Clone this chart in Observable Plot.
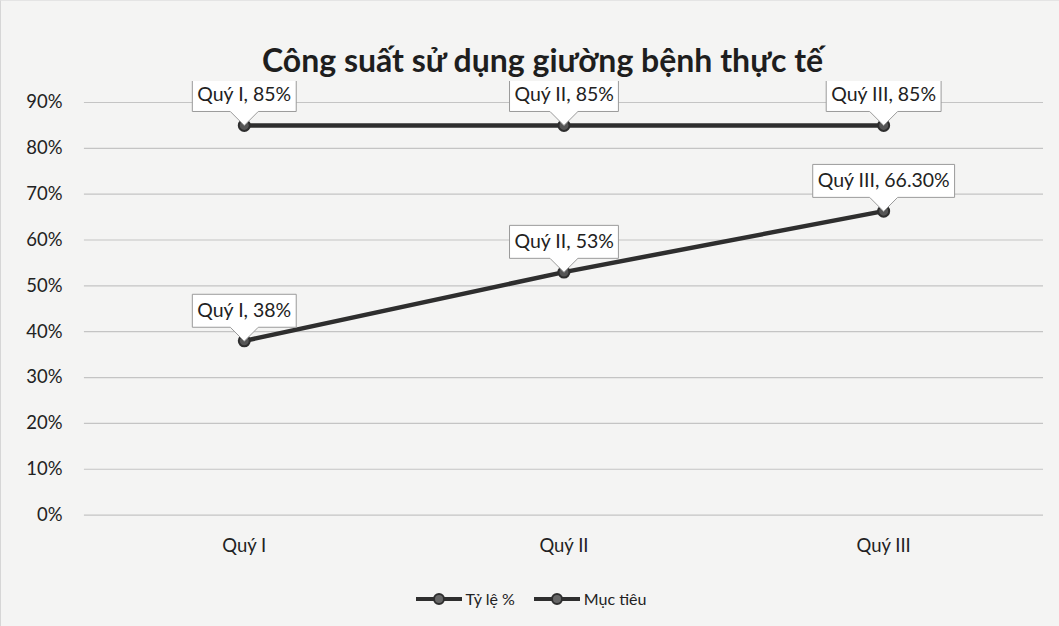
<!DOCTYPE html>
<html>
<head>
<meta charset="utf-8">
<script src="https://cdn.jsdelivr.net/npm/d3@7"></script>
<script src="https://cdn.jsdelivr.net/npm/@observablehq/plot@0.6"></script>
<style>
  html, body { margin: 0; padding: 0; background: #f4f4f3; }
  #chart { width: 1059px; height: 626px; position: relative; font-family: Lato, "Open Sans", sans-serif; color: #222; box-sizing: border-box; border-left: 1px solid #d6d6d6; border-top: 1px solid #e4e4e4; }
  #title { position: absolute; top: 39px; left: 12px; width: 1059px; text-align: center; font-size: 32px; line-height: 40px; font-weight: bold; color: #1e1e1e; }
  #plot { position: absolute; top: 80px; left: 0; }
  #legend { position: absolute; top: 588px; left: 0; width: 1059px; display: flex; justify-content: center; gap: 18px; font-size: 16px; color: #222; }
  .item { display: flex; align-items: center; gap: 3px; }
</style>
</head>
<body>
<div id="chart">
  <div id="title">Công suất sử dụng giường bệnh thực tế</div>
  <div id="plot"></div>
  <div id="legend"></div>
</div>
<script>
const quarters = ["Quý I", "Quý II", "Quý III"];
const tyLe = [0.38, 0.53, 0.663];
const tyLeText = ["38%", "53%", "66.30%"];
const mucTieu = [0.85, 0.85, 0.85];
const mucTieuText = ["85%", "85%", "85%"];
const yTicks = [0, 0.1, 0.2, 0.3, 0.4, 0.5, 0.6, 0.7, 0.8, 0.9];
const seriesNames = ["Tỷ lệ %", "Mục tiêu"];

const rows = [];
quarters.forEach((q, i) => {
  rows.push({series: seriesNames[0], q, v: tyLe[i], label: q + ", " + tyLeText[i]});
  rows.push({series: seriesNames[1], q, v: mucTieu[i], label: q + ", " + mucTieuText[i]});
});

const font = "Lato, 'Open Sans', sans-serif";
const lineColor = "#2e2e2e";
const chart = Plot.plot({
  width: 1059,
  height: 490,
  marginLeft: 83,
  marginRight: 16,
  marginTop: 21,
  marginBottom: 56,
  style: {fontFamily: font, fontSize: "18px", color: "#222", background: "transparent"},
  x: {type: "point", domain: quarters, padding: 0.5, label: null},
  y: {domain: [0, 0.9], ticks: yTicks, label: null, tickFormat: d3.format(".0%")},
  marks: [
    Plot.gridY(yTicks, {stroke: "#c4c4c4", strokeOpacity: 1, strokeWidth: 1.2}),
    Plot.axisY({ticks: yTicks, tickSize: 0, tickPadding: 22, fontSize: 18.5, tickFormat: d3.format(".0%")}),
    Plot.axisX({tickSize: 0, tickPadding: 24, fontSize: 18.5}),
    Plot.line(rows, {x: "q", y: "v", z: "series", stroke: lineColor, strokeWidth: 4.5}),
    Plot.dot(rows, {x: "q", y: "v", r: 5.5, fill: "#555", stroke: lineColor, strokeWidth: 2}),
    Plot.tip(rows, {x: "q", y: "v", title: "label", anchor: "bottom", fontSize: 19.5, fill: "white", stroke: "#9a9a9a", strokeWidth: 1, pointerSize: 28, textPadding: 5, pathFilter: "none", fontFamily: font})
  ]
});
document.getElementById("plot").appendChild(chart);

const legend = document.getElementById("legend");
seriesNames.forEach(name => {
  const item = document.createElement("div");
  item.className = "item";
  item.innerHTML = `<svg width="48" height="14"><line x1="1" y1="7" x2="47" y2="7" stroke="${lineColor}" stroke-width="4"/><circle cx="24" cy="7" r="5" fill="#666" stroke="${lineColor}" stroke-width="2"/></svg><span>${name}</span>`;
  legend.appendChild(item);
});
</script>
</body>
</html>
